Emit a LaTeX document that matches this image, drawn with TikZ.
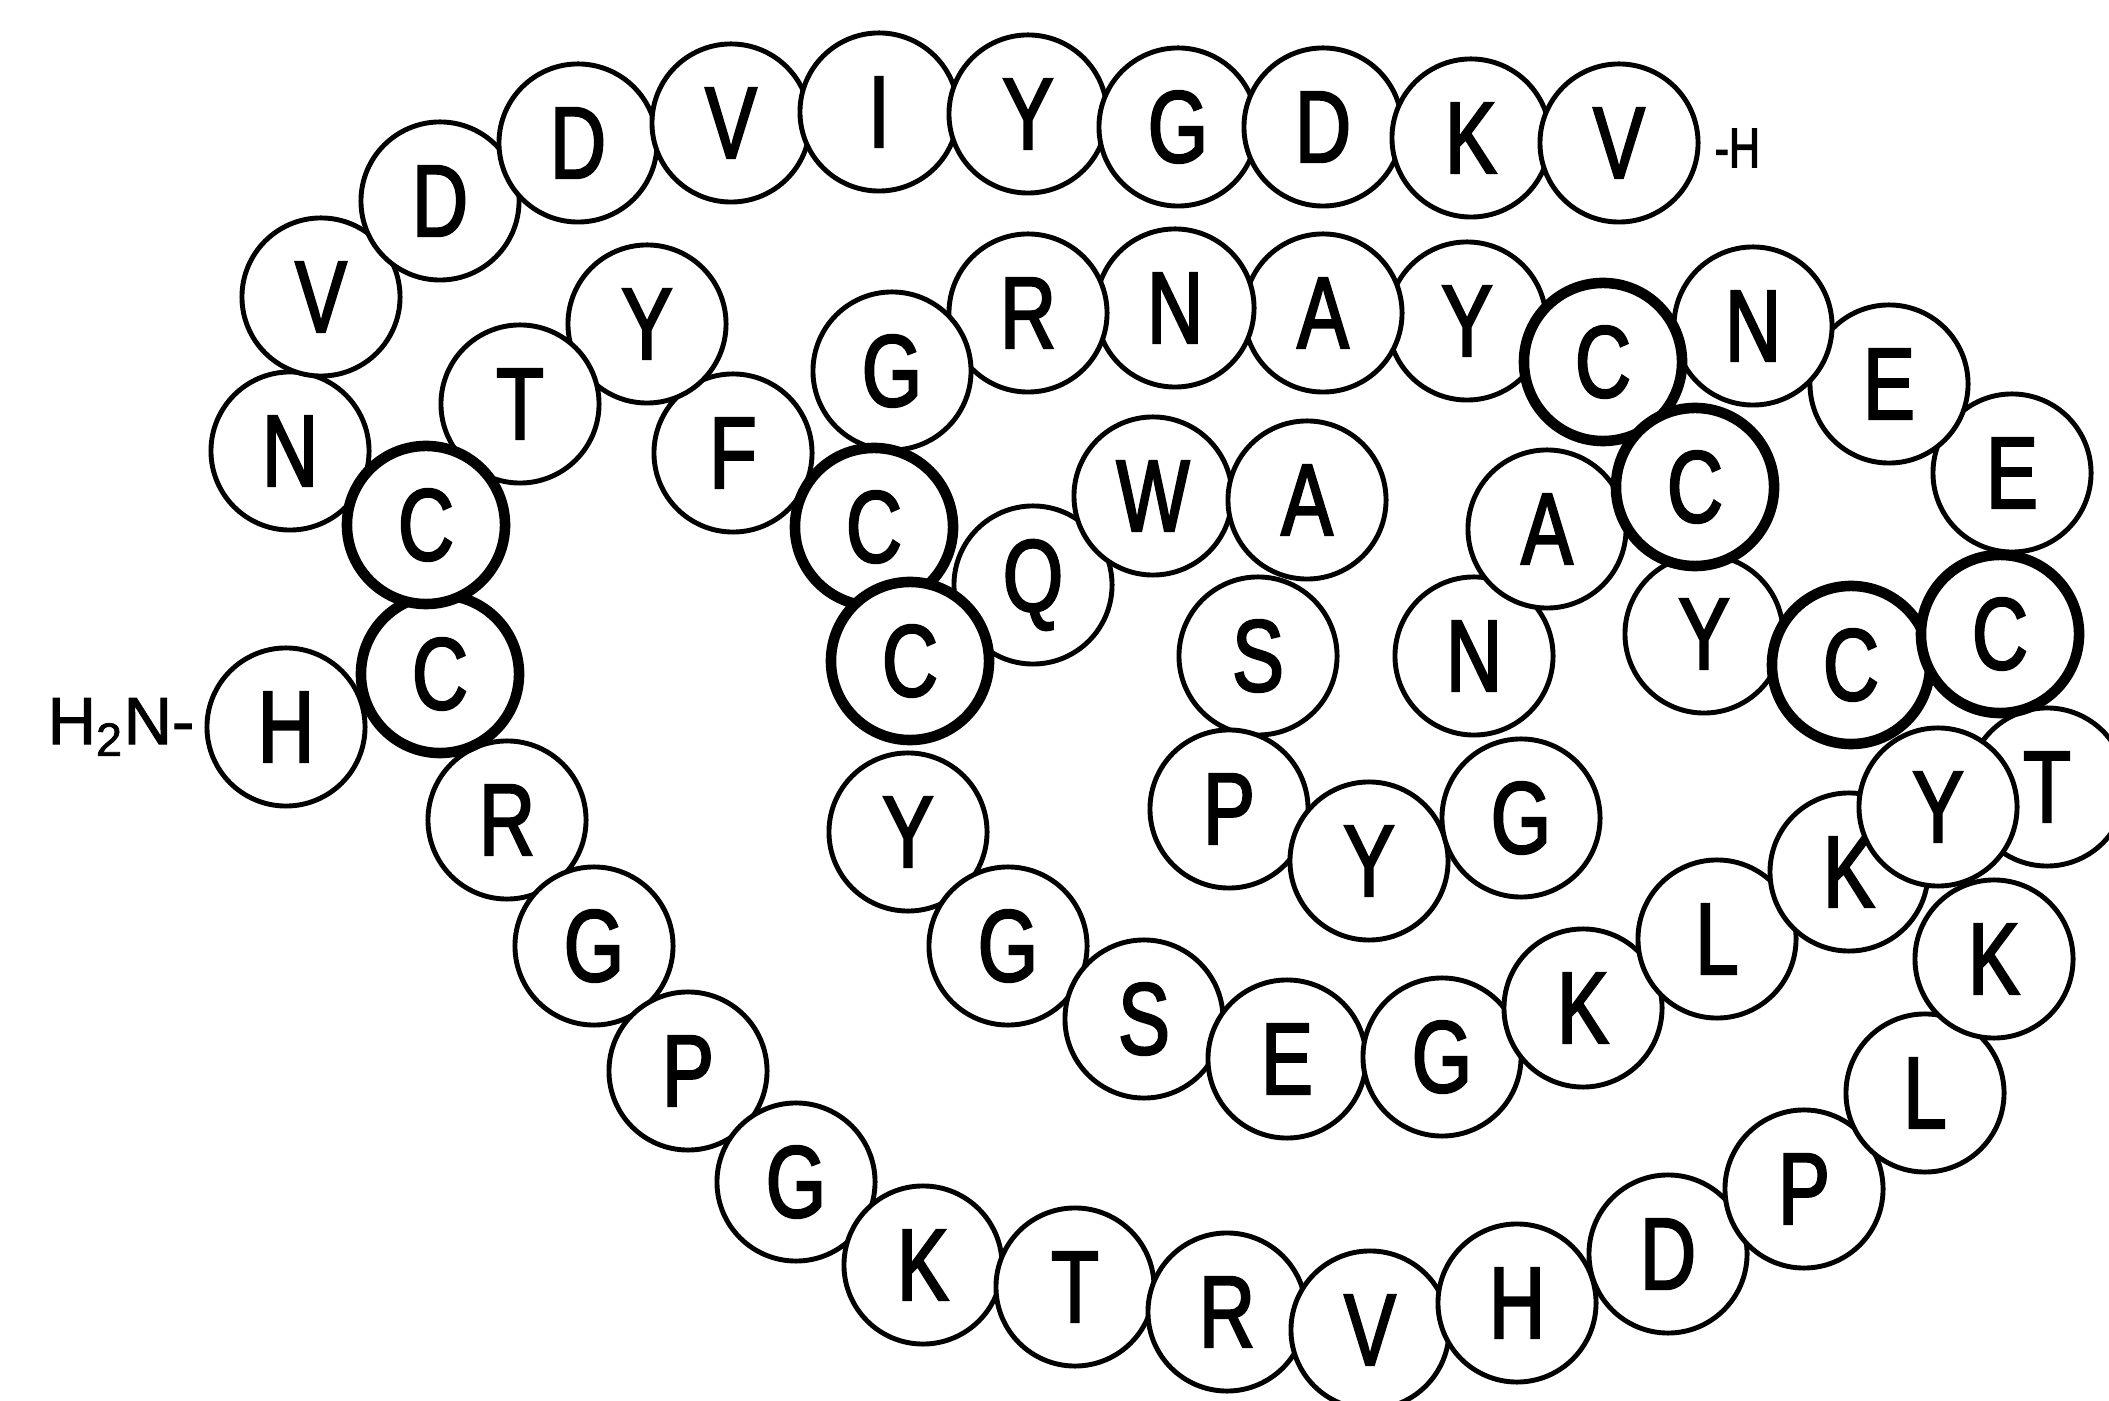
\documentclass[tikz,border=0pt]{standalone}
\usepackage{fontspec}
\newfontfamily\pepfont[FakeStretch=0.76, FakeBold=2.2]{Liberation Sans}
\newfontfamily\pepwide[FakeBold=1.5]{Liberation Sans}
\usetikzlibrary{positioning}
\tikzset{
  pepres/.style={circle, draw, line width=1.4pt, fill=white, minimum size=1.58cm,
    inner sep=0pt, font=\pepfont\fontsize{29}{30}\selectfont},
  pepcys/.style={pepres, line width=3pt},
  pepterm/.style={font=\pepfont\fontsize{16}{18}\selectfont, inner sep=1pt},
}

\begin{document}
\begin{tikzpicture}[x=0.01cm, y=-0.01cm]
  \useasboundingbox (0,0) rectangle (2109,1401);
  % outer chain
  \foreach \x/\y/\name/\aa in {
      286/727/h1/H, 507/820/r3/R, 594/946/g4/G, 688/1071/p5/P,
      796/1182/g6/G, 923/1265/k7/K, 1075/1287/t8/T, 1227/1312/r9/R,
      1370/1330/v10/V, 1517/1303/h11/H, 1668/1254/d12/D, 1804/1189/p13/P,
      1925/1093/l14/L, 1994/959/k15/K, 2047/787/t16/T, 2012/473/e18/E,
      1889/384/e19/E, 1753/326/n20/N, 1467/321/y22/Y, 1323/313/a23/A,
      1175/308/n24/N, 1028/313/r25/R, 892/371/g26/G, 733/453/f28/F,
      647/324/y29/Y, 520/404/t30/T, 290/451/n32/N, 321/297/v33/V,
      440/201/d34/D, 578/143/d35/D, 731/123/v36/V, 879/112/i37/I,
      1028/114/y38/Y, 1178/127/g39/G, 1323/127/d40/D, 1471/138/k41/K,
      1619/143/v42/V}
    \node[pepres] (\name) at (\x,\y) {\aa};
  % inner loops
  \foreach \x/\y/\name/\aa in {
      1033/585/q43/Q, 1153/496/w44/W, 1307/500/a45/A, 1258/656/s46/S,
      1229/809/p47/P, 1369/861/y48/Y, 1521/818/g49/G, 1474/656/n50/N,
      1547/529/a51/A, 1704/634/y53/Y, 908/832/y56/Y, 1008/946/g57/G,
      1144/1019/s58/S, 1287/1059/e59/E, 1442/1057/g60/G, 1583/1008/k61/K,
      1717/939/l62/L, 1849/872/k63/K, 1938/807/y64/Y}
    \node[pepres] (\name) at (\x,\y) {\aa};
  % cysteines
  \foreach \x/\y/\name in {
      440/674/c2, 426/525/c31, 874/527/c27, 910/661/c55,
      1603/362/c21, 1695/487/c52, 1851/665/c54, 2000/634/c17}
    \node[pepcys] (\name) at (\x,\y) {C};
  \node[pepterm, font=\pepwide\fontsize{19}{21}\selectfont, left=0.06cm of h1] (nterm) {H\textsubscript{2}N-};
  \node[pepterm, right=0.1cm of v42, yshift=-0.05cm] (cterm) {-H};
\end{tikzpicture}
\end{document}
